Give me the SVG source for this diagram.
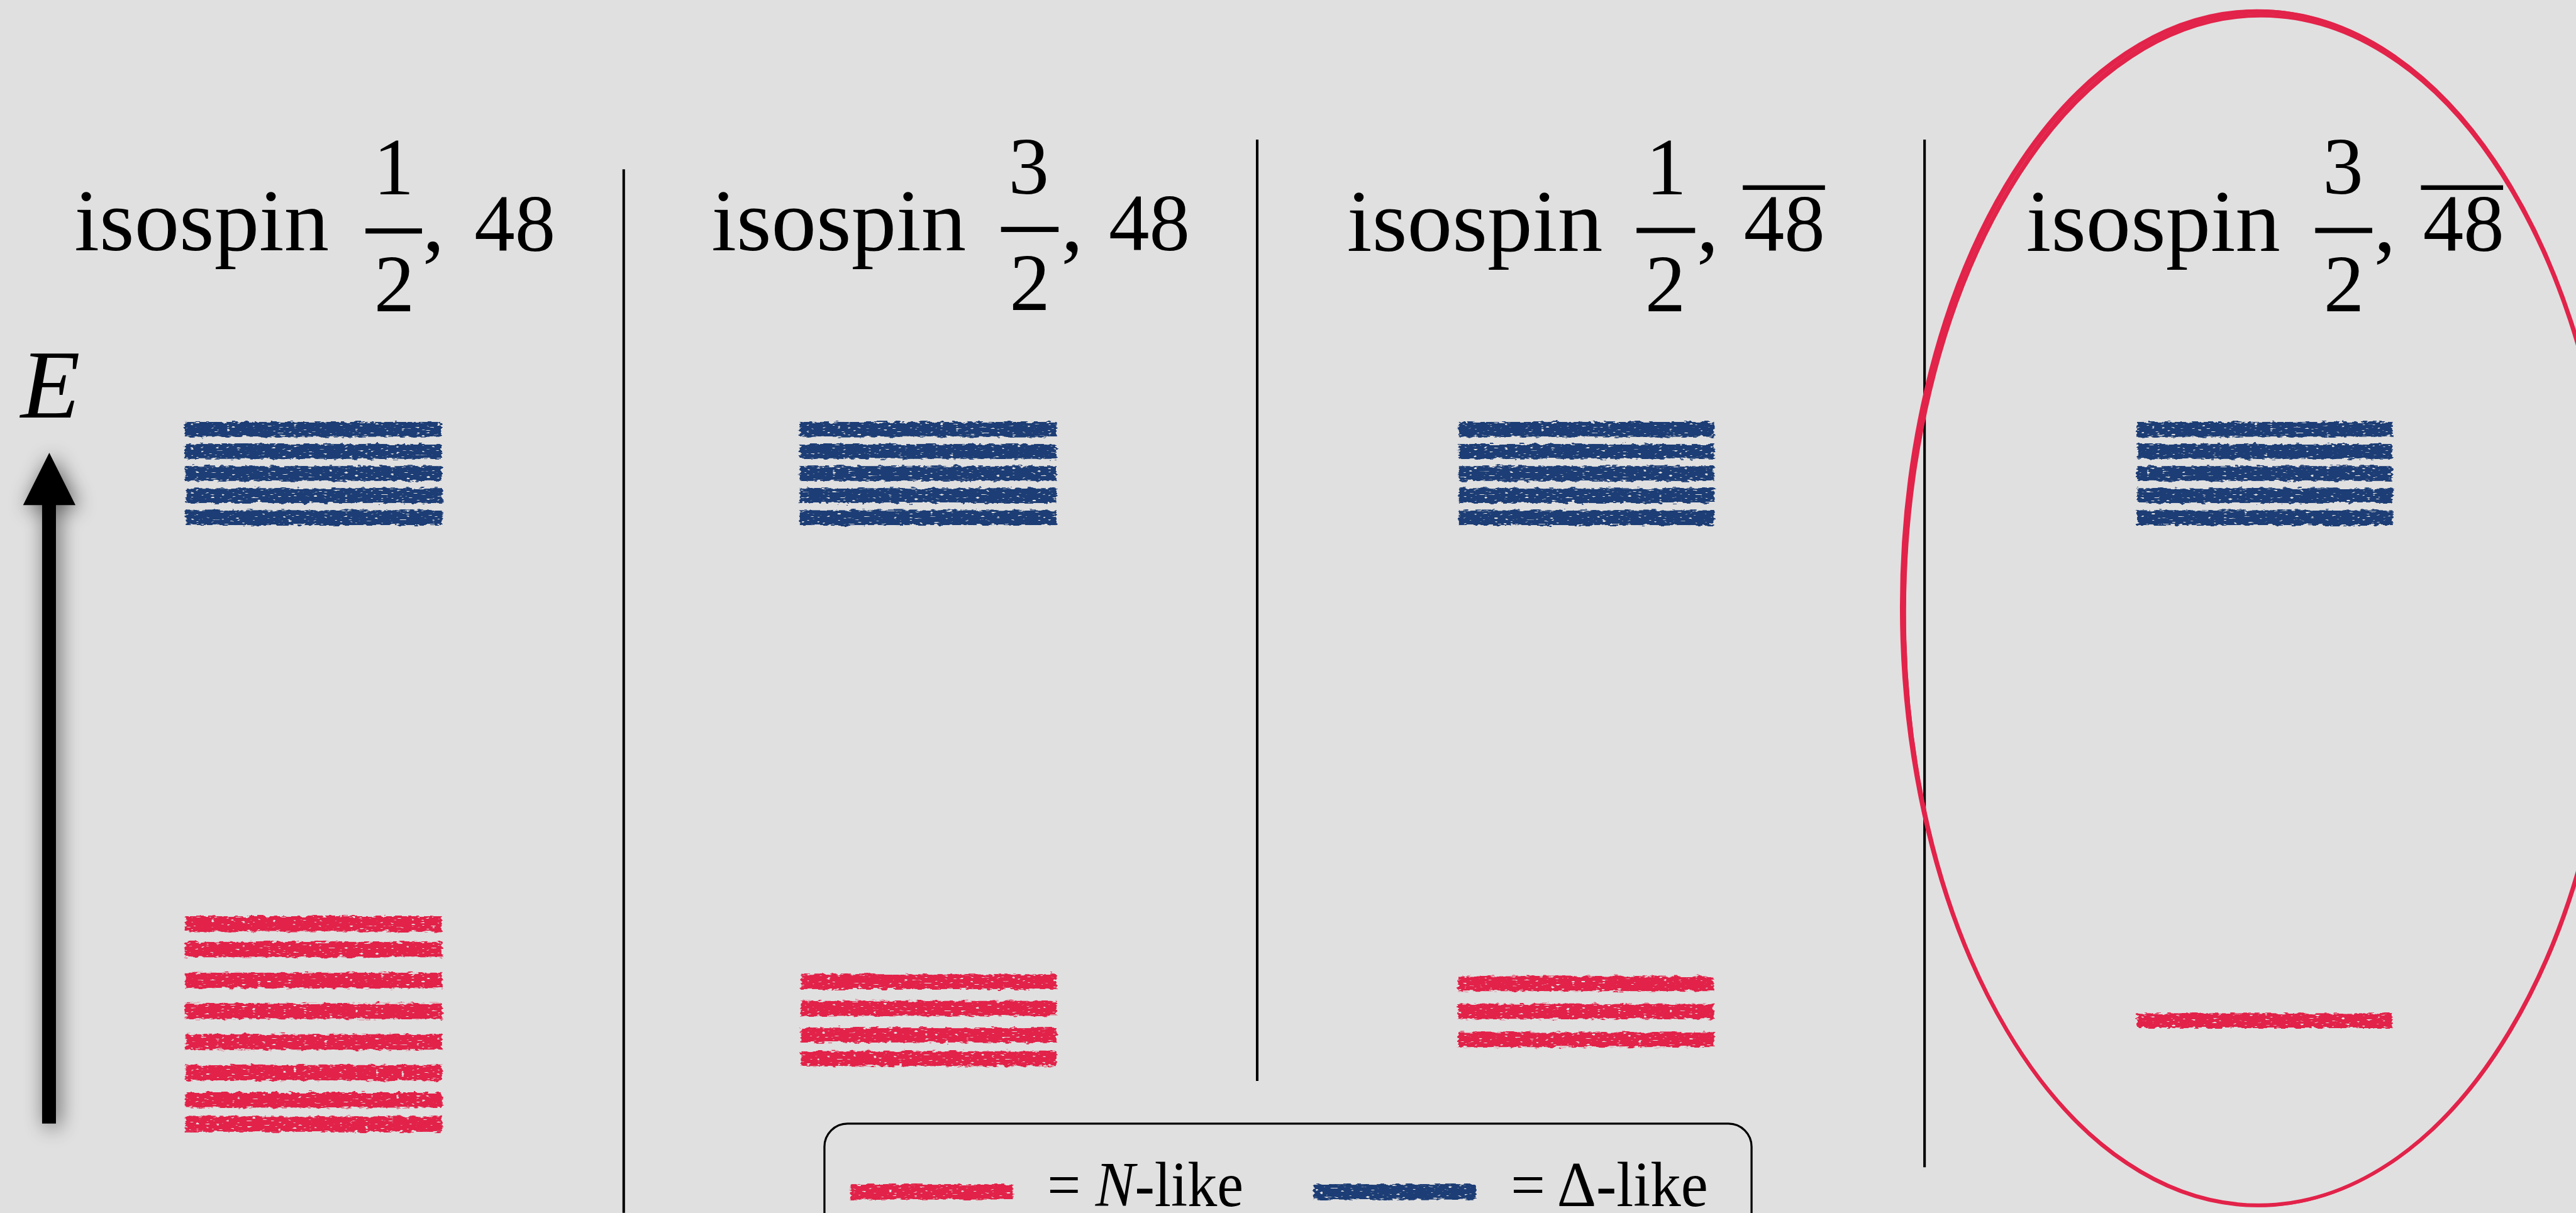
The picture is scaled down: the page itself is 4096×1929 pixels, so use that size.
<svg xmlns="http://www.w3.org/2000/svg" xmlns:xlink="http://www.w3.org/1999/xlink" width="4096" height="1929" viewBox="0 0 4096 1929">
  <defs>
    <style>
      .serif { font-family: "Liberation Serif", "Times New Roman", serif; fill: #000; }
      .word { font-size: 172px; }
      .num { font-size: 158px; }
      .n { fill: #e2234a; }
      .d { fill: #1e3e74; }
      .rule { stroke: #000; stroke-width: 5; }
      .fbar { fill: #000; }
      .ring { fill: none; stroke: #e2234a; }
    </style>
    <!-- crayon-like ragged edges and speckles for the level bars -->
    <filter id="rough" x="-3%" y="-3%" width="106%" height="106%">
      <feTurbulence type="fractalNoise" baseFrequency="0.07 0.22" numOctaves="2" seed="4" result="noise"/>
      <feDisplacementMap in="SourceGraphic" in2="noise" scale="11" xChannelSelector="R" yChannelSelector="G" result="ragged"/>
      <feTurbulence type="fractalNoise" baseFrequency="0.1 0.35" numOctaves="1" seed="9" result="grain"/>
      <feColorMatrix in="grain" type="matrix" values="0 0 0 0 0  0 0 0 0 0  0 0 0 0 0  14 0 0 0 -9.2" result="holes"/>
      <feComposite in="ragged" in2="holes" operator="out"/>
    </filter>
    <!-- soft shadow under the energy arrow -->
    <filter id="shade" x="-200%" y="-10%" width="500%" height="120%">
      <feGaussianBlur in="SourceAlpha" stdDeviation="20"/>
      <feOffset dx="6" dy="6" result="b"/>
      <feComponentTransfer in="b" result="s"><feFuncA type="linear" slope="0.6"/></feComponentTransfer>
      <feMerge><feMergeNode in="s"/><feMergeNode in="SourceGraphic"/></feMerge>
    </filter>
  </defs>

  <rect width="4096" height="1929" fill="#e0e0e0"/>

  <g transform="scale(0.81626)">

    <!-- energy axis -->
    <g id="axis">
      <text class="serif" x="40" y="814" font-size="190" font-style="italic">E</text>
      <path d="M82,2189 V984 H45 L96,882 L147,984 H109 V2189 Z" fill="#000" filter="url(#shade)"/>
    </g>

    <!-- column separators -->
    <g id="connectors">
      <line class="rule" x1="1215" y1="330" x2="1215" y2="2363"/>
      <line class="rule" x1="2449" y1="272" x2="2449" y2="2106"/>
      <line class="rule" x1="3749" y1="272" x2="3749" y2="2274"/>
    </g>

    <!-- isospin 1/2, 48 -->
    <g id="col-half-48">
      <text class="serif word" x="145" y="488" textLength="496" lengthAdjust="spacingAndGlyphs">isospin</text>
      <text class="serif num" x="767" y="378" text-anchor="middle">1</text>
      <rect class="fbar" x="712" y="445" width="110" height="10"/>
      <text class="serif num" x="768" y="606" text-anchor="middle">2</text>
      <text class="serif word" x="823" y="488">,</text>
      <text class="serif num" x="924" y="489">48</text>
      <g filter="url(#rough)">
        <rect class="d" x="360" y="822" width="500" height="29"/>
        <rect class="d" x="360" y="865" width="500" height="29"/>
        <rect class="d" x="360" y="908" width="500" height="29"/>
        <rect class="d" x="362" y="951" width="500" height="29"/>
        <rect class="d" x="362" y="994" width="500" height="29"/>
      </g>
      <g filter="url(#rough)">
        <rect class="n" x="361" y="1785" width="500" height="30"/>
        <rect class="n" x="361" y="1835" width="500" height="30"/>
        <rect class="n" x="361" y="1895" width="500" height="30"/>
        <rect class="n" x="361" y="1955" width="500" height="30"/>
        <rect class="n" x="361" y="2015" width="500" height="30"/>
        <rect class="n" x="361" y="2075" width="500" height="30"/>
        <rect class="n" x="361" y="2128" width="500" height="30"/>
        <rect class="n" x="361" y="2175" width="500" height="30"/>
      </g>
    </g>

    <!-- isospin 3/2, 48 -->
    <g id="col-threehalf-48">
      <text class="serif word" x="1386" y="487" textLength="496" lengthAdjust="spacingAndGlyphs">isospin</text>
      <text class="serif num" x="2004" y="377" text-anchor="middle">3</text>
      <rect class="fbar" x="1950" y="442" width="112" height="10"/>
      <text class="serif num" x="2006" y="604" text-anchor="middle">2</text>
      <text class="serif word" x="2067" y="487">,</text>
      <text class="serif num" x="2160" y="487">48</text>
      <g filter="url(#rough)">
        <rect class="d" x="1558" y="822" width="500" height="29"/>
        <rect class="d" x="1558" y="865" width="500" height="29"/>
        <rect class="d" x="1558" y="908" width="500" height="29"/>
        <rect class="d" x="1558" y="951" width="500" height="29"/>
        <rect class="d" x="1558" y="994" width="500" height="29"/>
      </g>
      <g filter="url(#rough)">
        <rect class="n" x="1560" y="1898" width="498" height="29"/>
        <rect class="n" x="1560" y="1950" width="498" height="29"/>
        <rect class="n" x="1560" y="2002" width="498" height="29"/>
        <rect class="n" x="1560" y="2048" width="498" height="29"/>
      </g>
    </g>

    <!-- isospin 1/2, 48-bar -->
    <g id="col-half-48bar">
      <text class="serif word" x="2624" y="489" textLength="498" lengthAdjust="spacingAndGlyphs">isospin</text>
      <text class="serif num" x="3246" y="378" text-anchor="middle">1</text>
      <rect class="fbar" x="3188" y="444" width="114" height="10"/>
      <text class="serif num" x="3244" y="607" text-anchor="middle">2</text>
      <text class="serif word" x="3305" y="489">,</text>
      <text class="serif num" x="3397" y="489">48</text>
      <rect class="fbar" x="3395" y="361" width="160" height="9"/>
      <g filter="url(#rough)">
        <rect class="d" x="2842" y="822" width="497" height="29"/>
        <rect class="d" x="2842" y="865" width="497" height="29"/>
        <rect class="d" x="2842" y="908" width="497" height="29"/>
        <rect class="d" x="2842" y="951" width="497" height="29"/>
        <rect class="d" x="2842" y="994" width="497" height="29"/>
      </g>
      <g filter="url(#rough)">
        <rect class="n" x="2840" y="1902" width="498" height="29"/>
        <rect class="n" x="2840" y="1956" width="498" height="29"/>
        <rect class="n" x="2841" y="2011" width="498" height="29"/>
      </g>
    </g>

    <!-- isospin 3/2, 48-bar -->
    <g id="col-threehalf-48bar">
      <text class="serif word" x="3947" y="489" textLength="495" lengthAdjust="spacingAndGlyphs">isospin</text>
      <text class="serif num" x="4564" y="377" text-anchor="middle">3</text>
      <rect class="fbar" x="4510" y="444" width="111" height="10"/>
      <text class="serif num" x="4566" y="606" text-anchor="middle">2</text>
      <text class="serif word" x="4624" y="489">,</text>
      <text class="serif num" x="4720" y="489">48</text>
      <rect class="fbar" x="4716" y="361" width="160" height="9"/>
      <g filter="url(#rough)">
        <rect class="d" x="4163" y="822" width="497" height="29"/>
        <rect class="d" x="4163" y="865" width="497" height="29"/>
        <rect class="d" x="4163" y="908" width="497" height="29"/>
        <rect class="d" x="4163" y="951" width="497" height="29"/>
        <rect class="d" x="4163" y="994" width="497" height="29"/>
      </g>
      <g filter="url(#rough)">
        <rect class="n" x="4163" y="1974" width="497" height="29"/>
      </g>
    </g>

    <!-- hand-drawn highlight ring: a few overlapping strokes -->
    <g id="highlight">
      <ellipse class="ring" cx="4400" cy="1185" rx="694" ry="1163" stroke-width="7"/>
      <ellipse class="ring" cx="4402" cy="1187" rx="692" ry="1161" stroke-width="5" transform="rotate(0.15 4400 1185)"/>
      <ellipse class="ring" cx="4398" cy="1184" rx="695" ry="1164" stroke-width="4" transform="rotate(-0.12 4400 1185)"/>
      <ellipse class="ring" cx="4401" cy="1190" rx="691" ry="1159" stroke-width="6" transform="rotate(0.25 4400 1185)"/>
    </g>

    <!-- legend -->
    <g id="legend">
      <rect x="1606" y="2189" width="1806" height="320" rx="45" fill="none" stroke="#000" stroke-width="4"/>
      <g filter="url(#rough)">
        <rect class="n" x="1657" y="2307" width="316" height="30"/>
        <rect class="d" x="2559" y="2307" width="316" height="30"/>
      </g>
      <text class="serif" x="2040" y="2350" font-size="124" textLength="382" lengthAdjust="spacingAndGlyphs">= <tspan font-style="italic">N</tspan>-like</text>
      <text class="serif" x="2943" y="2350" font-size="124" textLength="384" lengthAdjust="spacingAndGlyphs">= Δ-like</text>
    </g>
  </g>
</svg>
